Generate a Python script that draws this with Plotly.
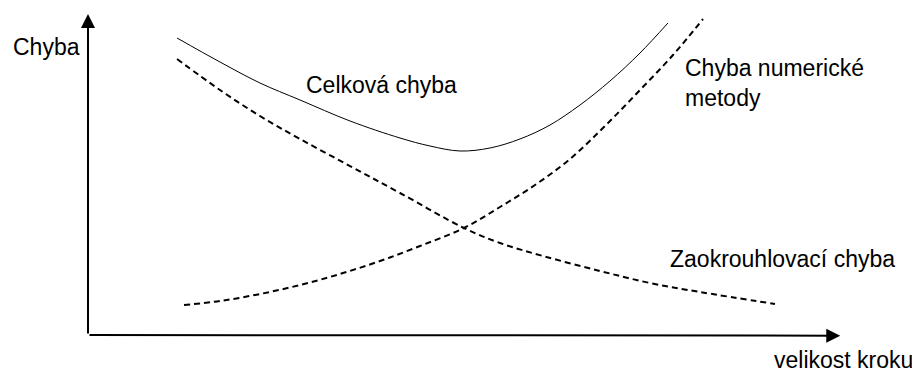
import plotly.graph_objects as go

# Values (abstract units: axis origin at 0,0; arrows end near 10)
total_x = [1.187, 1.76, 2.293, 2.827, 3.493, 4.16, 4.56, 4.96, 5.36, 5.76, 6.16, 6.56, 6.96, 7.36, 7.733]
total_y = [9.281, 8.531, 7.875, 7.344, 6.688, 6.156, 5.906, 5.75, 5.844, 6.125, 6.5625, 7.1875, 7.9375, 8.8125, 9.75]

num_x = [1.28, 1.76, 2.293, 2.827, 3.36, 3.893, 4.427, 5.013, 5.493, 5.96, 6.427, 6.893, 7.36, 7.8, 8.2]
num_y = [0.9375, 1.0625, 1.281, 1.5625, 1.906, 2.3125, 2.781, 3.344, 4.0, 4.6875, 5.5, 6.531, 7.656, 8.75, 9.875]

round_x = [1.187, 1.76, 2.293, 2.827, 3.493, 4.16, 5.013, 5.493, 6.067, 6.827, 7.493, 8.16, 9.16]
round_y = [8.625, 7.656, 6.844, 6.125, 5.281, 4.4375, 3.344, 2.875, 2.469, 2.0, 1.625, 1.344, 0.969]

label_total = "Celková chyba"
label_num = "Chyba numerické<br>metody"
label_round = "Zaokrouhlovací chyba"
label_yaxis = "Chyba"
label_xaxis = "velikost kroku"

FONT = dict(family="Liberation Sans, Arial, sans-serif", size=23, color="black")

fig = go.Figure()
fig.add_trace(go.Scatter(x=total_x, y=total_y, mode="lines",
                         line=dict(color="black", width=1, shape="spline", smoothing=1.0),
                         hoverinfo="skip"))
fig.add_trace(go.Scatter(x=num_x, y=num_y, mode="lines",
                         line=dict(color="black", width=2, dash="6px,4px", shape="spline", smoothing=1.0),
                         hoverinfo="skip"))
fig.add_trace(go.Scatter(x=round_x, y=round_y, mode="lines",
                         line=dict(color="black", width=2, dash="6px,4px", shape="spline", smoothing=1.0),
                         hoverinfo="skip"))

# axes with arrows
arrow = dict(xref="x", yref="y", axref="x", ayref="y", text="", showarrow=True,
             arrowhead=2, arrowsize=1.4, arrowwidth=2, arrowcolor="black", standoff=0)
fig.add_annotation(x=10.03, y=-0.02, ax=0, ay=0, **arrow)
fig.add_annotation(x=0, y=10.03, ax=0, ay=0, **arrow)

texts = [
    (label_yaxis, -1.03, 9.0),
    (label_total, 2.88, 7.81),
    (label_num, 7.93, 7.875),
    (label_round, 7.73, 2.375),
    (label_xaxis, 9.12, -0.79),
]
for t, x, y in texts:
    fig.add_annotation(x=x, y=y, xref="x", yref="y", text=t, showarrow=False,
                       xanchor="left", yanchor="middle", align="left", font=FONT)

fig.update_layout(
    width=912, height=364,
    margin=dict(l=0, r=0, t=0, b=0),
    paper_bgcolor="white", plot_bgcolor="white",
    showlegend=False,
    xaxis=dict(range=[-80/75, 832/75], visible=False, fixedrange=True),
    yaxis=dict(range=[-37/32, 327/32], visible=False, fixedrange=True),
)

fig.write_html("out.html")
